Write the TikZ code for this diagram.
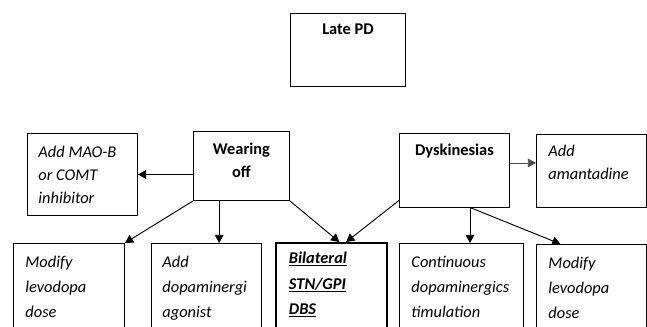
\documentclass[tikz,border=0pt]{standalone}
\usepackage{fontspec}
\setmainfont{Carlito}
\usetikzlibrary{
    arrows.meta,
    positioning,
    calc
}
\newcommand{\cellbox}[4]{\parbox[t][#2][t]{#1}{\hyphenpenalty=10000\exhyphenpenalty=10000\rule{0pt}{#3}#4}}
\tikzset{
    stepbox/.style={draw, line width=0.8pt, anchor=north west, inner sep=0pt, font=\fontsize{14}{19.5}\selectfont},
    optbox/.style={stepbox, font=\fontsize{14}{19.5}\selectfont\itshape},
    lowbox/.style={stepbox, font=\fontsize{14}{21.5}\selectfont\itshape},
    arr/.style={-{Triangle[length=7pt,width=7.5pt]}, line width=0.8pt}
}

\begin{document}
\begin{tikzpicture}[x=0.03cm, y=-0.03cm]
    \useasboundingbox (0,0) rectangle (647,326);

    % Top stage
    \node[stepbox] (late) at (290,13) {\cellbox{3.45cm}{2.19cm}{0.63cm}{\centering\bfseries Late PD}};

    % Problems
    \node[stepbox] (wear) at (193,131) {\cellbox{2.88cm}{2.07cm}{0.69cm}{\centering\bfseries Wearing\\ off}};
    \node[stepbox] (dysk) at (399,133) {\cellbox{3.3cm}{2.22cm}{0.66cm}{\centering\bfseries Dyskinesias}};

    % Side options
    \node[optbox] (mao) at (27,133) {\cellbox{3.3cm}{2.46cm}{0.72cm}{\leftskip=0.33cm Add MAO-B\\ or COMT\\ inhibitor}};
    \node[optbox] (amant) at (536,134) {\cellbox{3.3cm}{2.19cm}{0.66cm}{\leftskip=0.36cm Add\\ amantadine}};

    % Bottom row
    \node[lowbox] (lev1) at (13,243) {\cellbox{3.33cm}{2.8cm}{0.72cm}{\leftskip=0.36cm Modify\\ levodopa\\ dose}};
    \node[lowbox] (agon) at (151,243) {\cellbox{3.3cm}{2.8cm}{0.72cm}{\leftskip=0.33cm Add\\ dopaminergi\\ agonist}};
    \node[lowbox, line width=1.6pt] (dbs) at (275,242) {\cellbox{3.33cm}{2.8cm}{0.63cm}{\leftskip=0.39cm\bfseries \underline{Bilateral}\\ \underline{STN/GPI}\\ \underline{DBS}}};
    \node[lowbox] (cont) at (399,243) {\cellbox{3.72cm}{2.8cm}{0.72cm}{\leftskip=0.36cm Continuous\\ dopaminergics\\ timulation}};
    \node[lowbox] (lev2) at (536,244) {\cellbox{3.3cm}{2.8cm}{0.72cm}{\leftskip=0.36cm Modify\\ levodopa\\ dose}};

    % Wearing off arrows
    \draw[arr] (wear.west |- mao.east) -- (mao.east);
    \draw[arr] (wear.south west) -- (lev1.north east);
    \coordinate (w1) at ($(wear.south west)!0.27!(wear.south east)$);
    \draw[arr] (w1) -- (w1 |- agon.north);
    \draw[arr] (wear.south east) -- ($(dbs.north west)!0.57!(dbs.north east)$);

    % Dyskinesias arrows
    \coordinate (d0) at ($(dysk.north east)!0.4!(dysk.south east)$);
    \draw[arr, gray!60!black] (d0) -- (amant.west |- d0);
    \draw[arr] ($(dysk.north west)!0.9!(dysk.south west)$) -- ($(dbs.north west)!0.63!(dbs.north east)$);
    \coordinate (d1) at ($(dysk.south west)!0.64!(dysk.south east)$);
    \draw[arr] (d1) -- (d1 |- cont.north);
    \draw[arr] ($(dysk.south west)!0.65!(dysk.south east)$) -- ($(lev2.north west)!0.22!(lev2.north east)$);
\end{tikzpicture}
\end{document}
